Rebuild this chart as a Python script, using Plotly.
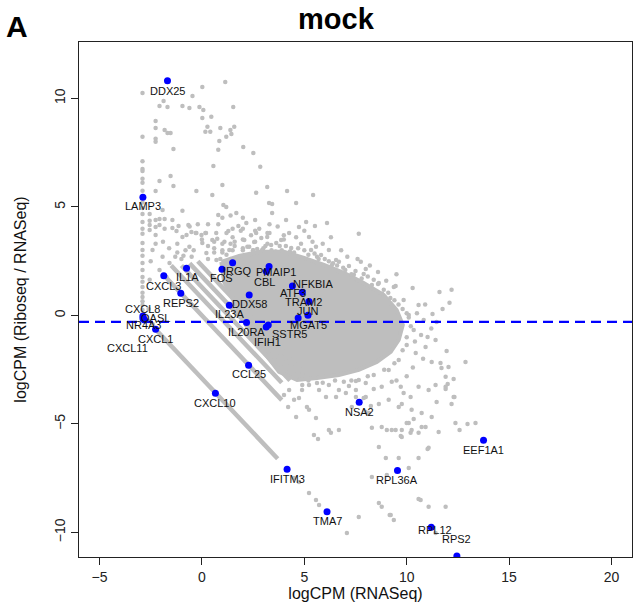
import plotly.graph_objects as go

# ---------------- data ----------------
genes = ["DDX25", "LAMP3", "CXCL3", "IL1A", "REPS2", "FOS", "IRGQ", "PMAIP1", "CBL",
         "NFKBIA", "ATF3", "TRAM2", "JUN", "MGAT5", "DDX58", "IL23A", "IL20RA", "SSTR5",
         "IFIH1", "CXCL1", "NR4A3", "CXCL8", "OASL", "CXCL11", "CCL25", "CXCL10", "NSA2",
         "IFITM3", "TMA7", "EEF1A1", "RPL36A", "RPL12", "RPS2"]
gene_x = [-1.68, -2.88, -1.86, -0.75, -1.03, 0.98, 1.50, 3.28, 3.15,
          4.42, 4.90, 5.23, 5.18, 4.70, 2.31, 1.34, 2.18, 3.24,
          3.14, -2.26, -2.87, -2.88, -2.80, -2.87, 2.28, 0.66, 7.68,
          4.16, 6.11, 13.75, 9.55, 11.2, 12.45]
gene_y = [10.81, 5.45, 1.83, 2.18, 1.02, 2.13, 2.43, 2.25, 2.02,
          1.36, 1.07, 0.64, 0.01, -0.12, 0.94, 0.47, -0.33, -0.44,
          -0.53, -0.64, -0.12, -0.02, -0.21, -0.16, -2.29, -3.59, -4.0,
          -7.09, -9.04, -5.75, -7.15, -9.76, -11.08]

median_ratio = -0.3

# sparse genes above the main cloud
top_pts = [(-2.9, 10.25), (-1.87, 9.88), (0.02, 10.53), (1.14, 10.76), (-0.46, 10.11),
           (-2.07, 9.65), (-1.68, 9.61), (-0.95, 9.65), (-0.61, 9.56), (-0.12, 9.61),
           (0.07, 9.47), (1.53, 9.61), (-2.26, 8.96), (-2.26, 8.64), (-1.82, 8.55),
           (-1.68, 8.41), (-1.53, 8.41), (0.02, 9.1), (0.46, 9.15), (0.27, 8.69),
           (0.17, 8.46), (0.41, 8.46), (0.9, 8.64), (1.39, 8.55), (1.44, 8.36),
           (1.58, 8.69), (1.19, 8.23), (-2.9, 8.23), (-2.26, 8.14), (-2.26, 8.0),
           (-1.39, 7.67), (0.85, 8.04), (0.8, 7.63), (2.02, 7.76), (2.51, 7.49),
           (2.85, 6.85), (0.56, 6.89), (-2.9, 6.75), (-2.9, 6.66), (-2.9, 6.11),
           (-2.07, 6.2), (-1.53, 6.43), (-1.39, 5.97), (-0.27, 5.74), (0.51, 5.55),
           (1.0, 6.01), (1.05, 5.09), (-2.26, 5.74), (2.65, 5.65), (3.19, 5.92),
           (3.43, 5.14), (4.16, 5.74), (4.6, 5.18), (5.09, 4.31), (5.43, 5.55),
           (5.52, 4.12), (6.11, 4.26), (7.66, 3.76), (-0.95, 4.82), (0.8, 4.63),
           (1.29, 3.89), (1.78, 4.12), (3.19, 3.62), (0.17, 3.8), (-0.02, 3.71),
           (0.75, 3.53), (1.19, 5.0), (1.68, 4.72), (2.17, 4.26), (2.65, 3.8),
           (3.28, 5.18), (3.43, 4.72), (4.11, 4.4), (4.26, 3.8), (4.74, 4.08),
           (5.23, 3.62), (5.57, 3.16)]

# diagonal rows of genes just above the start of the bands / cloud
rows_pts = [(-0.6, 4.1), (-0.3, 3.8), (0.0, 3.5), (0.3, 3.2), (0.6, 2.9), (0.9, 2.6),
            (-0.2, 4.2), (0.2, 3.8), (0.6, 3.4), (1.0, 3.0), (1.4, 2.6),
            (0.3, 4.2), (0.7, 3.8), (1.1, 3.4), (1.5, 3.0), (1.9, 2.6),
            (0.8, 4.2), (1.2, 3.8), (1.6, 3.4), (2.0, 3.0), (2.4, 2.6),
            (1.0, 4.5), (1.5, 4.0), (2.0, 3.5), (2.5, 3.0),
            (1.4, 4.6), (2.0, 4.0), (2.6, 3.4), (3.1, 2.9),
            (2.0, 4.5), (2.6, 3.9), (3.2, 3.3), (2.6, 4.4), (3.2, 3.8), (3.8, 3.2),
            (3.3, 4.2), (4.0, 3.5), (-1.2, 3.3), (-0.8, 3.0), (-0.4, 3.0),
            (-1.0, 2.6), (-1.3, 2.7)]

# low-RNA genes on the left (column at the minimum logCPM and nearby)
left_pts = [(-2.9, 4.68), (-2.55, 4.68), (-2.9, 4.31), (-2.55, 4.36), (-2.26, 4.4),
            (-2.07, 4.45), (-1.82, 4.45), (-2.26, 4.08), (-2.07, 4.17), (-2.9, 3.76),
            (-2.55, 3.94), (-2.26, 3.71), (-1.82, 3.99), (-1.44, 4.03), (-1.24, 3.89),
            (-1.14, 4.12), (-0.66, 4.17), (-0.75, 3.71), (-0.51, 3.85), (-0.27, 3.8),
            (0.02, 3.34), (0.51, 3.48), (-0.61, 3.16), (-0.95, 3.62), (-1.44, 4.4),
            (-1.92, 4.86), (-2.55, 4.17), (-2.9, 3.34), (-2.41, 3.02), (-1.92, 2.7),
            (-1.58, 2.42), (0.22, 2.88), (0.71, 2.56), (1.34, 3.02), (1.82, 2.7),
            (2.31, 3.16), (2.94, 3.02), (3.63, 3.34), (-2.9, 3.02), (-2.9, 2.42),
            (-2.9, 1.77), (-2.9, 1.31), (-2.9, 0.85), (-2.9, 0.48), (-2.55, 1.64),
            (-2.07, 2.1), (-1.73, 1.77), (-2.9, 2.1), (-2.9, 1.55), (-2.9, 1.05),
            (-2.9, 0.65), (-2.9, 0.25), (-2.9, 2.75), (-2.9, 4.0), (-2.9, 4.95),
            (-2.9, 5.2), (-2.9, 5.75), (-2.9, 7.1), (-2.9, 6.3), (-2.6, 0.3),
            (-2.75, -0.1), (-2.6, -0.25), (-2.4, -0.4), (-2.26, 3.3), (-1.9, 3.4),
            (-1.6, 3.1), (-1.2, 2.9), (-0.9, 2.75), (-0.5, 2.7), (-2.5, 2.5)]

# moderately dense genes just above and around the main cloud
rim_pts = [(2.07, 3.48), (2.55, 3.39), (2.9, 3.57), (3.38, 3.25), (3.87, 3.48),
           (4.36, 3.11), (4.84, 3.3), (5.33, 3.02), (5.82, 2.79), (6.2, 3.02),
           (6.69, 2.47), (7.18, 2.28), (7.42, 1.87), (8.39, 1.64), (8.88, 1.18),
           (2.22, 3.16), (2.7, 3.06), (3.1, 3.2), (3.6, 2.95), (4.1, 3.2),
           (4.5, 2.9), (5.0, 3.0), (5.5, 2.85), (1.6, 3.2), (1.2, 2.8),
           (0.6, 3.1), (0.3, 2.6), (1.0, 3.3), (6.0, 2.6), (6.4, 2.4),
           (6.9, 2.2), (7.5, 2.05), (8.1, 1.8), (8.6, 1.45), (9.1, 1.05),
           (9.4, 0.7), (9.8, 0.3), (10.1, -0.1), (5.62, 2.7), (6.55, 2.56),
           (6.35, 2.33), (7.76, 2.47), (8.0, 2.14), (7.9, 1.91), (9.85, 0.71),
           (10.1, 0.02), (10.34, -0.67), (10.0, -1.36), (9.61, -2.05), (9.12, -2.51),
           (8.39, -2.74), (7.66, -2.97), (6.93, -3.06), (6.2, -3.2), (5.62, -3.11),
           (10.58, 0.48), (10.83, -0.21), (9.37, 1.31), (8.64, 1.5),
           (1.5, 3.6), (1.9, 3.9), (2.4, 3.7), (2.8, 4.0), (3.3, 3.8),
           (3.7, 4.1), (4.0, 3.7), (4.6, 3.6), (5.0, 3.9), (5.4, 3.4),
           (5.9, 3.3), (6.3, 3.6), (6.8, 3.0), (7.1, 2.7), (7.6, 2.6),
           (8.2, 2.3), (8.6, 2.0), (9.0, 1.6), (9.5, 1.9), (1.0, 2.9),
           (1.4, 3.3), (2.0, 3.1), (2.5, 3.0), (3.0, 3.1), (3.4, 3.0),
           (3.9, 3.0), (4.3, 2.95), (4.7, 3.1), (5.2, 2.8), (5.7, 2.6),
           (6.2, 2.5), (6.6, 2.3), (7.0, 2.1), (7.3, 1.9), (7.8, 1.7),
           (8.3, 1.4), (8.8, 1.0), (9.2, 0.8), (9.6, 0.5), (10.0, 0.1),
           (10.2, -0.5), (10.0, -1.0), (9.8, -1.6), (9.4, -2.2), (8.9, -2.5),
           (8.1, -2.8), (7.3, -3.0), (6.5, -3.0), (5.9, -3.1), (5.2, -3.0),
           (4.9, -3.2), (10.4, -1.2), (10.7, -0.9), (10.5, 0.1), (10.9, 0.5),
           (11.2, -0.6), (10.3, -2.4), (10.8, -2.0), (10.0, -2.8), (9.5, -3.0)]

# sparse genes to the right of the cloud
right_pts = [(9.46, 1.36), (10.29, 1.27), (11.6, 1.08), (12.19, 1.18), (12.09, 0.58),
             (11.75, 0.3), (11.26, 0.07), (11.46, -0.3), (11.02, -0.99), (11.41, -1.13),
             (11.95, -1.64), (12.87, -2.14), (10.92, -1.45), (10.44, -1.73), (11.22, -2.14),
             (12.04, -2.37), (11.65, -2.19), (11.7, -2.42), (11.9, -2.83), (12.29, -2.93),
             (12.0, -3.16), (11.9, -3.39), (12.33, -3.76)]

# sparse genes below the cloud
low_pts = [(4.74, -3.8), (5.13, -4.22), (5.23, -4.35), (5.57, -4.72), (4.21, -4.22),
           (4.6, -4.68), (5.47, -5.51), (5.67, -5.69), (6.2, -5.28), (6.3, -5.41),
           (6.69, -5.28), (6.55, -3.76), (6.69, -3.43), (7.03, -3.57), (7.52, -3.43),
           (8.0, -3.76), (7.32, -4.22), (8.15, -4.49), (8.3, -5.18), (8.78, -5.14),
           (9.03, -5.28), (9.46, -5.28), (9.76, -5.28), (9.76, -5.6), (10.24, -5.28),
           (10.58, -5.41), (8.64, -6.06), (8.98, -6.57), (9.61, -6.57), (10.1, -7.03),
           (10.58, -6.57), (11.07, -6.1), (8.3, -7.44), (8.64, -8.64), (8.78, -8.82),
           (9.22, -9.19), (9.37, -9.42), (10.68, -8.5), (5.23, -8.18), (5.57, -8.5),
           (5.72, -8.73), (7.66, -9.29), (11.07, -8.82), (6.06, -3.76), (5.72, -3.43),
           (5.23, -3.2), (4.89, -3.43), (9.61, -4.22), (10.24, -4.35), (10.73, -4.49),
           (11.22, -4.68), (10.1, -4.95), (10.92, -5.14), (7.18, -3.25), (7.52, -3.02),
           (8.0, -3.11), (8.39, -3.39), (8.78, -3.29), (9.27, -3.06), (9.71, -3.29),
           (9.85, -3.57), (10.19, -3.76), (10.58, -3.29), (11.07, -3.43), (11.41, -3.2),
           (11.9, -3.29), (12.29, -3.76), (12.19, -4.08), (11.46, -3.99), (9.76, -4.08),
           (9.12, -3.89), (8.64, -4.08), (8.25, -4.17), (7.9, -3.8), (7.52, -3.76),
           (8.0, -4.45), (9.27, -5.28), (9.71, -5.55), (10.0, -4.95), (10.34, -4.77),
           (10.73, -5.14), (10.19, -5.41), (11.56, -5.37), (12.38, -4.95), (12.97, -5.0),
           (13.36, -4.95), (12.58, -5.28), (11.02, -6.15), (9.03, -7.35), (10.58, -8.46),
           (11.9, -8.82), (9.17, -9.19), (7.08, -10.02), (11.41, -10.02), (4.26, -3.43),
           (4.01, -3.66), (4.5, -3.89), (4.5, -7.49), (4.74, -7.67)]

# outline of the saturated centre of the cloud (thousands of overlapping genes)
core_x = [0.95, 1.82, 2.8, 4.01, 4.99, 5.96, 6.93, 7.9, 8.88, 9.51, 9.81, 9.61,
          9.22, 8.54, 7.66, 6.69, 5.62, 4.65, 3.77, 2.94, 2.17, 1.58, 1.09]
core_y = [2.47, 2.74, 2.93, 2.93, 2.65, 2.33, 1.96, 1.5, 0.94, 0.25, -0.44, -1.13,
          -1.68, -2.14, -2.51, -2.74, -2.88, -2.97, -2.6, -1.59, -0.48, 0.62, 1.54]

# diagonal bands of genes with fixed (very low) Ribo-seq counts
band_x0 = [-2.3, -1.9, -1.5, -1.0, -0.6, -0.2]
band_y0 = [-0.6, 1.9, 2.3, 2.3, 2.4, 2.5]
band_x1 = [3.7, 3.9, 3.9, 4.3, 4.7, 5.0]
band_y1 = [-6.6, -3.9, -3.1, -3.0, -2.9, -2.7]

x_ticks = [-5, 0, 5, 10, 15, 20]
y_ticks = [-10, -5, 0, 5, 10]

# ---------------- styles ----------------
GREY = "#BEBEBE"
FONT = "Liberation Sans, Arial, Helvetica, sans-serif"
# label offset (pixels right, pixels down) relative to the gene dot
LABEL_SHIFT = {
    "DDX25": (0, 10), "LAMP3": (0, 9), "CXCL3": (0, 10), "IL1A": (1, 9), "REPS2": (0, 10),
    "FOS": (0, 9), "IRGQ": (5, 8), "PMAIP1": (7, 5), "CBL": (-2, 10), "NFKBIA": (21, -2),
    "ATF3": (-9, 1), "TRAM2": (-6, 0), "JUN": (0, -4), "MGAT5": (10, 7), "DDX58": (0, 9),
    "IL23A": (0, 9), "IL20RA": (0, 9), "SSTR5": (21, 9), "IFIH1": (1, 15), "CXCL1": (0, 10),
    "NR4A3": (0, 7), "CXCL8": (0, -7), "OASL": (11, -2), "CXCL11": (-16, 29), "CCL25": (0, 9),
    "CXCL10": (0, 10), "NSA2": (0, 10), "IFITM3": (0, 10), "TMA7": (0, 9), "EEF1A1": (0, 10),
    "RPL36A": (0, 9), "RPL12": (4, 3), "RPS2": (0, -17),
}

fig = go.Figure()

# saturated core
fig.add_trace(go.Scatter(x=core_x + core_x[:1], y=core_y + core_y[:1], mode="lines",
                         fill="toself", fillcolor=GREY, line=dict(color=GREY, width=4),
                         hoverinfo="skip", showlegend=False))

# diagonal bands
for x0, y0, x1, y1 in zip(band_x0, band_y0, band_x1, band_y1):
    fig.add_trace(go.Scatter(x=[x0, x1], y=[y0, y1], mode="lines",
                             line=dict(color=GREY, width=4.5),
                             hoverinfo="skip", showlegend=False))

# individual grey genes
for pts in (top_pts, rows_pts, left_pts, rim_pts, right_pts, low_pts):
    xs, ys = zip(*pts)
    fig.add_trace(go.Scatter(x=list(xs), y=list(ys), mode="markers",
                             marker=dict(color=GREY, size=4.5, line=dict(width=0)),
                             hoverinfo="skip", showlegend=False))

# highlighted genes
fig.add_trace(go.Scatter(x=gene_x, y=gene_y, mode="markers",
                         marker=dict(color="#0000FF", size=7, line=dict(width=0)),
                         text=genes, showlegend=False))

for g, gx, gy in zip(genes, gene_x, gene_y):
    dx, dy = LABEL_SHIFT[g]
    fig.add_annotation(x=gx, y=gy, text=g, showarrow=False, xshift=dx, yshift=-dy,
                       xanchor="center", yanchor="middle",
                       font=dict(family=FONT, size=11, color="#111111"))

# median line
fig.add_shape(type="line", xref="paper", x0=0, x1=1, yref="y", y0=median_ratio, y1=median_ratio,
              line=dict(color="#0000FF", width=2.2, dash="10px,6px"))

fig.add_annotation(xref="paper", yref="paper", x=0.465, y=1.045, text="<b>mock</b>",
                   showarrow=False, xanchor="center", yanchor="middle",
                   font=dict(family=FONT, size=29, color="black"))
fig.add_annotation(xref="paper", yref="paper", x=-0.113, y=1.03, text="<b>A</b>",
                   showarrow=False, xanchor="center", yanchor="middle",
                   font=dict(family=FONT, size=30, color="black"))

axis_common = dict(showgrid=False, zeroline=False, showline=True, mirror=True,
                   linecolor="#222222", linewidth=1, ticks="outside", ticklen=7,
                   tickcolor="#222222", tickfont=dict(family=FONT, size=14, color="#222222"))

fig.update_layout(
    width=634, height=606,
    margin=dict(l=79, r=2, t=42, b=49),
    paper_bgcolor="white", plot_bgcolor="white",
    xaxis=dict(range=[-6, 21], tickvals=x_ticks,
               title=dict(text="logCPM (RNASeq)", font=dict(family=FONT, size=16, color="#111111"),
                          standoff=4),
               **axis_common),
    yaxis=dict(range=[-11.13, 12.6], tickvals=y_ticks, tickangle=-90,
               title=dict(text="logCPM (Riboseq / RNASeq)",
                          font=dict(family=FONT, size=16, color="#111111"), standoff=21),
               **axis_common),
)

fig.write_html("out.html", config={"displayModeBar": False},
               post_script="document.body.style.margin='0';document.body.style.padding='0';")
